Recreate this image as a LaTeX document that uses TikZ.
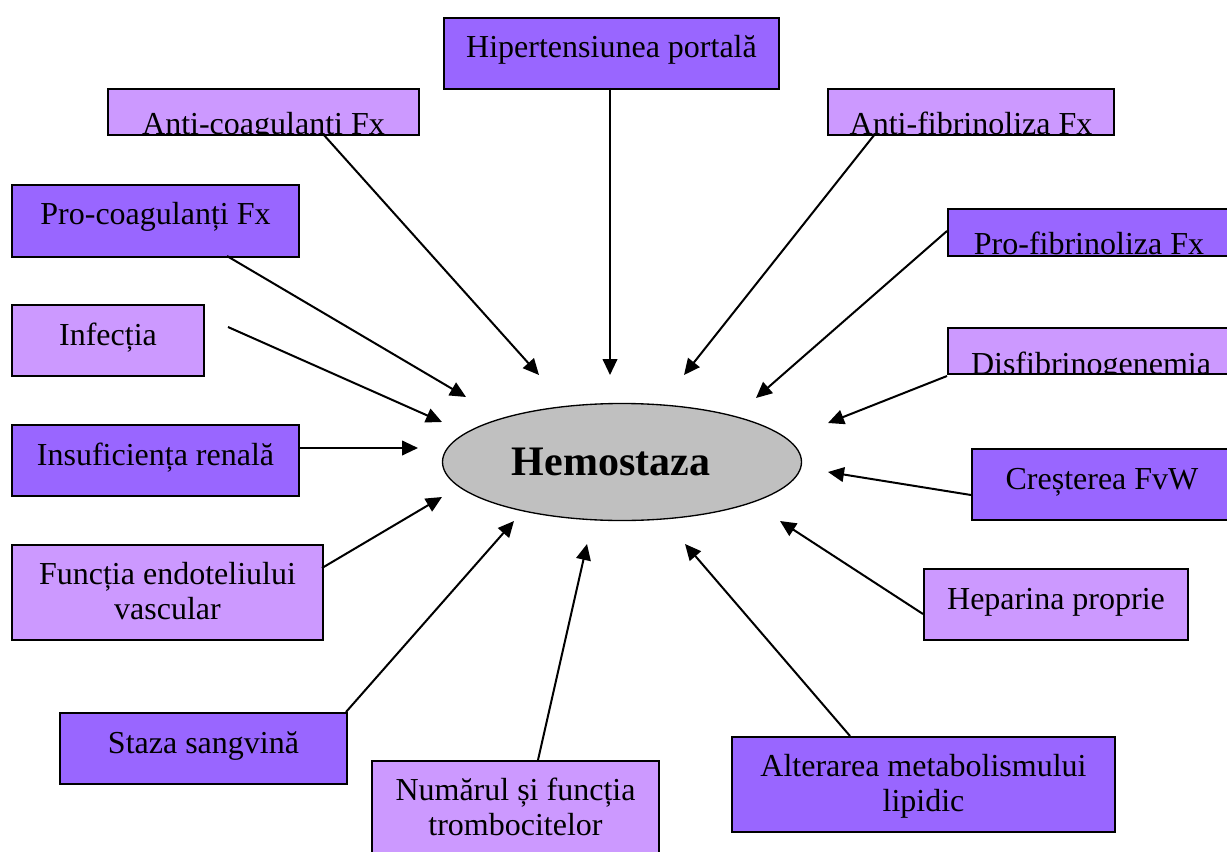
\documentclass[tikz,border=0pt]{standalone}
\usepackage{fontspec}
\setmainfont{Liberation Serif}
\usetikzlibrary{arrows.meta,shapes.geometric}
\definecolor{darkviolet}{HTML}{9966FF}
\definecolor{lightviolet}{HTML}{CC99FF}
\definecolor{centergray}{HTML}{C0C0C0}
\def\px{0.75pt}

\begin{document}
\begin{tikzpicture}[x=\px,y=-\px]
    \tikzstyle{factor}=[draw=black, line width=1.5pt, inner sep=0pt, anchor=north west]
    \tikzstyle{dark factor}=[factor, fill=darkviolet]
    \tikzstyle{light factor}=[factor, fill=lightviolet]
    \tikzstyle{factor text}=[font=\fontsize{24}{26}\selectfont, align=center, anchor=base, inner sep=0pt]
    \tikzstyle{influence}=[-{Triangle[length=12pt,width=11pt]}, line width=1.5pt]

    \useasboundingbox (0,0) rectangle (1227,852);

    % Draw the dark boxes
    \foreach \name/\x/\y/\w/\h in {hip/443/17/335/71, pcoag/11/184/287/72,
            pfib/947/208/282/47, insuf/11/424/287/71, cres/971/448/260/71,
            staza/59/712/287/71, alter/731/736/383/95}
        \node[dark factor, minimum width=\w*\px, minimum height=\h*\px] (\name) at (\x,\y) {};

    % Draw the light boxes
    \foreach \name/\x/\y/\w/\h in {acoag/107/88/311/46, afib/827/88/286/46,
            inf/11/304/192/71, disf/947/327/286/46, func/11/544/311/95,
            hep/923/568/264/71, numar/371/760/287/95}
        \node[light factor, minimum width=\w*\px, minimum height=\h*\px] (\name) at (\x,\y) {};

    % Texts of the boxes (one line)
    \foreach \name/\txt in {hip/Hipertensiunea portală, pcoag/Pro-coagulanți Fx,
            inf/Infecția, insuf/Insuficiența renală, cres/Creșterea FvW,
            hep/Heparina proprie, staza/Staza sangvină}
        \node[factor text] (\name-t) at ([yshift=-41*\px]\name.north) {\txt};

    % Texts of the boxes (two lines, placed by their last line)
    \foreach \name/\txt in {func/{Funcția endoteliului\\vascular},
            numar/{Numărul și funcția\\trombocitelor},
            alter/{Alterarea metabolismului\\lipidic}}
        \node[factor text] (\name-t) at ([yshift=-75*\px]\name.north) {\txt};

    % Texts cut off by their boxes
    \foreach \name/\txt in {acoag/Anti-coagulanti Fx, afib/Anti-fibrinoliza Fx,
            pfib/Pro-fibrinoliza Fx, disf/Disfibrinogenemia}
    {
        \begin{scope}
            \clip ([yshift=1*\px]\name.south west) rectangle (\name.north east);
            \node[factor text] (\name-t) at ([yshift=-47*\px]\name.north) {\txt};
        \end{scope}
    }

    % The central node
    \node[ellipse, draw=black, fill=centergray, line width=1pt, inner sep=0pt,
        minimum width=359*\px, minimum height=117*\px] (hemo) at (622,462) {};
    \node[font=\fontsize{31.5}{36}\selectfont\bfseries, anchor=base, inner sep=0pt] (hemo-t) at (611,475) {Hemostaza};

    % Start and end points of the arrows
    \coordinate (hip-s) at (610,88);    \coordinate (hip-e) at (610,375);
    \coordinate (acoag-s) at (323,134); \coordinate (acoag-e) at (539,375);
    \coordinate (afib-s) at (875,134);  \coordinate (afib-e) at (684,375);
    \coordinate (pcoag-s) at (227,256); \coordinate (pcoag-e) at (466,397);
    \coordinate (pfib-s) at (947,231);  \coordinate (pfib-e) at (756,398);
    \coordinate (inf-s) at (228,327);   \coordinate (inf-e) at (442,422);
    \coordinate (disf-s) at (947,376);  \coordinate (disf-e) at (828,423);
    \coordinate (insuf-s) at (298,448); \coordinate (insuf-e) at (418,448);
    \coordinate (cres-s) at (971,495);  \coordinate (cres-e) at (828,472);
    \coordinate (func-s) at (322,568);  \coordinate (func-e) at (442,497);
    \coordinate (hep-s) at (923,614);   \coordinate (hep-e) at (780,521);
    \coordinate (staza-s) at (346,712); \coordinate (staza-e) at (514,521);
    \coordinate (numar-s) at (538,760); \coordinate (numar-e) at (587,544);
    \coordinate (alter-s) at (850,736); \coordinate (alter-e) at (685,544);

    % Connect every box with the central node
    \foreach \name in {hip,acoag,afib,pcoag,pfib,inf,disf,insuf,cres,func,hep,staza,numar,alter}
        \draw[influence] (\name-s) -- (\name-e);
\end{tikzpicture}
\end{document}
